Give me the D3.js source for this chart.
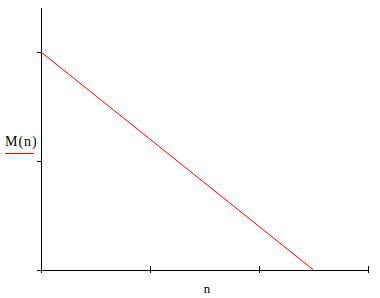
<!DOCTYPE html>
<html>
<head>
<meta charset="utf-8">
<script src="https://cdn.jsdelivr.net/npm/d3@7"></script>
<style>
  html, body { margin: 0; padding: 0; background: #fff; }
  text { font-family: "Liberation Serif", "Times New Roman", serif; }
</style>
</head>
<body>
<div id="chart"></div>
<script>
// line M(n): endpoints
const lineN = [0, 2.5];
const lineM = [2, 0];
const xTicks = [1, 2, 3];
const yTicks = [1, 2];

const W = 380, H = 298;
const svg = d3.select("#chart").append("svg")
    .attr("width", W).attr("height", H);

const x = d3.scaleLinear().domain([0, 3]).range([41, 368]);
const y = d3.scaleLinear().domain([0, 2]).range([270, 52]);

// y axis: plain vertical line running above the top tick
svg.append("line")
    .attr("x1", 41.5).attr("x2", 41.5).attr("y1", 8).attr("y2", 273)
    .attr("stroke", "#000").attr("stroke-width", 1);
svg.selectAll(".ytick").data(yTicks).join("line")
    .attr("x1", 37).attr("x2", 41)
    .attr("y1", d => Math.round(y(d)) + 0.5).attr("y2", d => Math.round(y(d)) + 0.5)
    .attr("stroke", "#000");

// x axis
svg.append("line")
    .attr("x1", 37).attr("x2", 369)
    .attr("y1", 270.5).attr("y2", 270.5)
    .attr("stroke", "#000");
svg.selectAll(".xtick").data(xTicks).join("line")
    .attr("x1", d => Math.round(x(d)) + 0.5).attr("x2", d => Math.round(x(d)) + 0.5)
    .attr("y1", 266).attr("y2", 273)
    .attr("stroke", "#000");

// the red line
svg.append("path")
    .datum(lineN.map((n, i) => [n, lineM[i]]))
    .attr("d", d3.line().x(d => x(d[0])).y(d => y(d[1])))
    .attr("fill", "none").attr("stroke", "#ff0000").attr("stroke-width", 1);

// labels
svg.append("text").attr("x", 207).attr("y", 293)
    .attr("text-anchor", "middle").attr("font-size", 13).text("n");

svg.append("text").attr("x", 5).attr("y", 146)
    .attr("font-size", 14).attr("letter-spacing", 1).text("M(n)");
svg.append("line")
    .attr("x1", 5).attr("x2", 34).attr("y1", 153.5).attr("y2", 153.5)
    .attr("stroke", "#ff0000");
</script>
</body>
</html>
